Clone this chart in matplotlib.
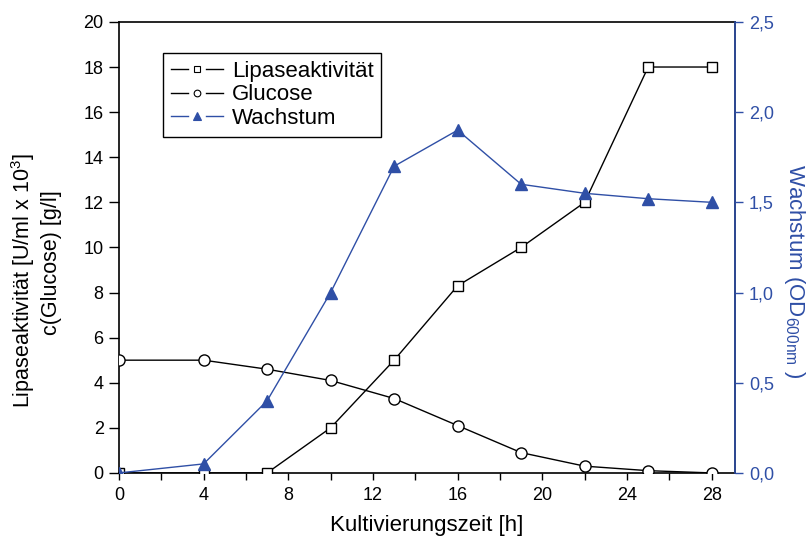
import numpy as np
import matplotlib.pyplot as plt
from matplotlib.lines import Line2D
from matplotlib.legend_handler import HandlerLine2D
from matplotlib.ticker import MultipleLocator, FuncFormatter

plt.rcParams['font.family'] = ['Liberation Sans', 'DejaVu Sans']

# Kultivierung: Zeitpunkte und Messwerte
zeit = [0, 4, 7, 10, 13, 16, 19, 22, 25, 28]
lipase = [0, 0, 0, 2, 5, 8.3, 10, 12, 18, 18]
glucose = [5, 5, 4.6, 4.1, 3.3, 2.1, 0.9, 0.3, 0.1, 0]
wachstum = [0, 0.05, 0.4, 1.0, 1.7, 1.9, 1.6, 1.55, 1.52, 1.5]

blau = '#2F4FA6'


class Luecke(HandlerLine2D):
    # Legendensymbol: Linie - Marker - Linie, mit kleinem Abstand um den Marker
    def create_artists(self, legend, orig, xdescent, ydescent, width, height,
                       fontsize, trans):
        y = (height - ydescent) / 2
        x0, x1 = -xdescent, width - xdescent
        xm = (x0 + x1) / 2
        g = 0.17 * width
        kw = dict(color=orig.get_color(), lw=orig.get_linewidth())
        a = Line2D([x0, xm - g], [y, y], **kw)
        b = Line2D([xm + g, x1], [y, y], **kw)
        m = Line2D([xm], [y], ls='none', marker=orig.get_marker(),
                   ms=orig.get_markersize() * 0.6, mfc=orig.get_markerfacecolor(),
                   mec=orig.get_markeredgecolor(), mew=0.8)
        for art in (a, b, m):
            art.set_transform(trans)
        return [a, b, m]


fig = plt.figure(figsize=(8.09, 5.48), dpi=100)
ax = fig.add_axes([0.147, 0.137, 0.7615, 0.823])
ax2 = ax.twinx()

l1, = ax.plot(zeit, lipase, color='black', lw=1, marker='s', ms=7,
              mfc='white', mec='black', mew=1, label='Lipaseaktivität', zorder=3)
l2, = ax.plot(zeit, glucose, color='black', lw=1, marker='o', ms=8,
              mfc='white', mec='black', mew=1, label='Glucose', zorder=3)
l3, = ax2.plot(zeit, wachstum, color=blau, lw=1, marker='^', ms=9,
               mfc=blau, mec=blau, label='Wachstum', zorder=3)

ax.set_xlim(0, 29.1)
ax.set_ylim(0, 20)
ax2.set_ylim(0, 2.5)

ax.xaxis.set_major_locator(MultipleLocator(4))
ax.xaxis.set_minor_locator(MultipleLocator(2))
ax.yaxis.set_major_locator(MultipleLocator(2))
ax2.yaxis.set_major_locator(MultipleLocator(0.5))
ax2.yaxis.set_major_formatter(FuncFormatter(lambda v, p: f'{v:.1f}'.replace('.', ',')))

ax.tick_params(axis='x', which='both', direction='out', length=5, width=1,
               labelsize=13, pad=5)
ax.tick_params(axis='y', direction='out', length=7, width=1, labelsize=13, pad=4)
ax2.tick_params(axis='y', direction='out', length=6, width=1, labelsize=13,
                colors=blau, pad=4)

for a in (ax, ax2):
    for s in a.spines.values():
        s.set_linewidth(1.2)
ax2.spines['right'].set_color(blau)
ax2.spines['left'].set_visible(False)
ax2.spines['top'].set_visible(False)
ax2.spines['bottom'].set_visible(False)

ax.set_xlabel('Kultivierungszeit [h]', fontsize=16, labelpad=8)
ax.text(-0.155, 0.426, 'Lipaseaktivität [U/ml x 10$^\\mathregular{3}$]',
        transform=ax.transAxes, rotation=90, ha='center', va='center', fontsize=15.5)
ax.text(-0.110, 0.467, 'c(Glucose) [g/l]',
        transform=ax.transAxes, rotation=90, ha='center', va='center', fontsize=15.5)
ax2.set_ylabel('Wachstum (OD$_\\mathregular{600nm}$ )', fontsize=16, color=blau,
               rotation=270, labelpad=24)
ax2.yaxis.label.set_y(0.448)

leg = ax.legend(handles=[l1, l2, l3], loc='upper left',
                bbox_to_anchor=(0.0714, 0.931), fontsize=16,
                handler_map={Line2D: Luecke()},
                handlelength=2.35, handletextpad=0.4, labelspacing=0.12,
                fancybox=False, edgecolor='black', framealpha=1,
                borderpad=0.35, borderaxespad=0)
leg.get_frame().set_linewidth(1)

fig.savefig('out.png', dpi=100)
